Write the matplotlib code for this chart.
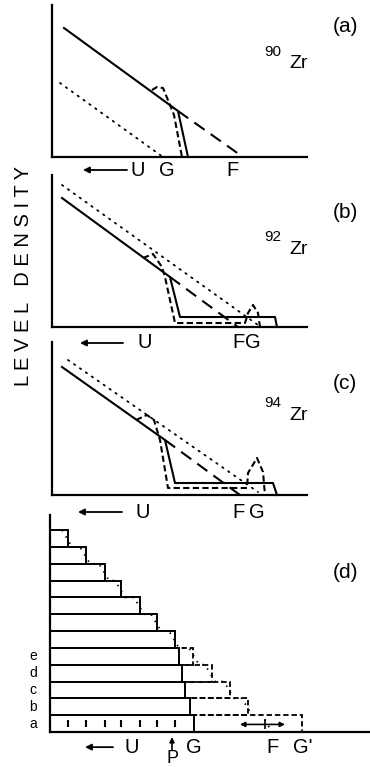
import matplotlib.pyplot as plt

W, H = 370, 767
plt.rcParams['font.family'] = ['Liberation Sans Narrow', 'Liberation Sans', 'DejaVu Sans']

# ---- panel (a) 90Zr ----
a_solid_x = [12, 126, 136]
a_solid_y = [129, 46, 0]
a_short_x = [100, 105, 111, 118, 122, 130]
a_short_y = [67, 70, 69, 52, 42, 0]
a_long_x = [126, 191]
a_long_y = [46, 0]
a_dot_x = [8, 111]
a_dot_y = [74, 0]
a_marks = ['U', 'G', 'F']
a_mark_x = [86, 115, 181]

# ---- panel (b) 92Zr ----
b_solid_x = [10, 118, 128, 223, 225]
b_solid_y = [129, 50, 10, 10, 0]
b_short_x = [91, 101, 110, 113, 123, 193, 196, 201, 206, 208]
b_short_y = [69, 73, 60, 50, 4, 4, 14, 22, 14, 0]
b_long_x = [118, 186]
b_long_y = [50, 0]
b_dot_x = [10, 206]
b_dot_y = [142, 2]
b_marks = ['U', 'F', 'G']
b_mark_x = [93, 186, 201]

# ---- panel (c) 94Zr ----
c_solid_x = [10, 113, 123, 221, 225]
c_solid_y = [128, 55, 12, 12, 0]
c_short_x = [84, 95, 102, 108, 116, 195, 196, 205, 211, 213]
c_short_y = [75, 80, 75, 55, 7, 7, 22, 37, 23, 0]
c_long_x = [113, 188]
c_long_y = [55, 0]
c_dot_x = [16, 206]
c_dot_y = [135, 3]
c_marks = ['U', 'F', 'G']
c_mark_x = [91, 186, 205]

# ---- panel (d) level scheme ----
row_labels = ['a', 'b', 'c', 'd', 'e']
solid_edge = [144, 140, 135, 132, 129, 125, 107, 90, 71, 55, 36, 18]
dash_edge = [252, 198, 180, 162, 143]
dot_edge = [220, 200, 182, 163, 147, 127, 109, 92, 73, 57, 38, 20]
d_marks = ['U', 'G', 'F', "G'"]
d_mark_x = [82, 144, 223, 253]
p_x = 122
shift_x = [190, 235]
shift_mid = 215

LONG = (6, 3.6)
SHORT = (3, 1.6)
DOT = (0.8, 3.2)

fig = plt.figure(figsize=(W / 100, H / 100), dpi=100)


def add_panel(left, right, top, bottom, ylim=None):
    ax = fig.add_axes([left / W, 1 - bottom / H, (right - left) / W, (bottom - top) / H])
    ax.set_xlim(0, right - left)
    ax.set_ylim(0, ylim if ylim else bottom - top)
    for s in ['top', 'right']:
        ax.spines[s].set_visible(False)
    for s in ['left', 'bottom']:
        ax.spines[s].set_linewidth(1.6)
    ax.set_xticks([])
    ax.set_yticks([])
    ax.patch.set_alpha(0)
    return ax


def draw_curves(ax, solid, short, long_, dot):
    ax.plot(*dot, color='k', lw=1.3, dashes=DOT, dash_capstyle='round', clip_on=False)
    ax.plot(*long_, color='k', lw=1.5, dashes=LONG, clip_on=False)
    ax.plot(*short, color='k', lw=1.5, dashes=SHORT, clip_on=False)
    ax.plot(*solid, color='k', lw=1.5, clip_on=False)


def left_arrow(ax, x0, x1, y):
    ax.annotate('', xy=(x1, y), xytext=(x0, y), annotation_clip=False,
                arrowprops=dict(arrowstyle='-|>', lw=1.3, color='k', mutation_scale=9,
                                shrinkA=0, shrinkB=0))


def marks(ax, names, xs, y):
    for n, x in zip(names, xs):
        ax.text(x, y, n, ha='center', va='center', fontsize=14.5, clip_on=False)


ax_a = add_panel(52, 307, 5, 157)
draw_curves(ax_a, (a_solid_x, a_solid_y), (a_short_x, a_short_y),
            (a_long_x, a_long_y), (a_dot_x, a_dot_y))
left_arrow(ax_a, 75, 31, -13)
marks(ax_a, a_marks, a_mark_x, -13)

ax_b = add_panel(52, 307, 175, 327)
draw_curves(ax_b, (b_solid_x, b_solid_y), (b_short_x, b_short_y),
            (b_long_x, b_long_y), (b_dot_x, b_dot_y))
left_arrow(ax_b, 71, 28, -16)
marks(ax_b, b_marks, b_mark_x, -16)

ax_c = add_panel(52, 307, 342, 495)
draw_curves(ax_c, (c_solid_x, c_solid_y), (c_short_x, c_short_y),
            (c_long_x, c_long_y), (c_dot_x, c_dot_y))
left_arrow(ax_c, 70, 26, -17)
marks(ax_c, c_marks, c_mark_x, -17)

ax_d = add_panel(50, 370, 515, 732, ylim=12.9)
n = len(solid_edge)
ax_d.barh(range(len(dash_edge)), dash_edge, height=1, align='edge', fill=False,
          edgecolor='k', lw=1.3, linestyle=(0, SHORT), zorder=1)
ax_d.barh(range(n), solid_edge, height=1, align='edge', color='white',
          edgecolor='k', lw=1.4, zorder=2)
dx, dy = [], []
for i in range(n - 1, -1, -1):
    dx += [dot_edge[i] - 8, dot_edge[i] + 2]
    dy += [i + 1, i]
ax_d.plot(dx, dy, color='k', lw=1.3, dashes=DOT, zorder=3)
ax_d.vlines(solid_edge[5:], 0.3, 0.7, color='k', lw=1.5, zorder=3)
for i, lab in enumerate(row_labels):
    ax_d.text(-17, i + 0.5, lab, ha='center', va='center', fontsize=10, clip_on=False)
ax_d.annotate('', xy=(shift_x[0], 0.45), xytext=(shift_x[1], 0.45),
              arrowprops=dict(arrowstyle='<|-|>', lw=1.2, color='k', mutation_scale=7,
                              shrinkA=0, shrinkB=0), zorder=4)
ax_d.vlines(shift_mid, 0.2, 0.75, color='k', lw=1.2, zorder=4)
left_arrow(ax_d, 63, 35, -0.9)
marks(ax_d, d_marks, d_mark_x, -0.9)
ax_d.annotate('', xy=(p_x, -0.3), xytext=(p_x, -1.05), annotation_clip=False,
              arrowprops=dict(arrowstyle='-|>', lw=1.2, color='k', mutation_scale=7,
                              shrinkA=0, shrinkB=0))
ax_d.text(p_x, -1.55, 'P', ha='center', va='center', fontsize=13, clip_on=False)

# panel tags and isotopes
for tag, y in [('(a)', 27), ('(b)', 213), ('(c)', 383), ('(d)', 573)]:
    fig.text(345 / W, 1 - y / H, tag, ha='center', va='center', fontsize=15)
for mass, py in [('90', 52), ('92', 237), ('94', 403)]:
    fig.text(264 / W, 1 - py / H, mass, ha='left', va='center', fontsize=11)
    fig.text(289 / W, 1 - (py + 12) / H, 'Zr', ha='left', va='center', fontsize=14)

fig.text(24 / W, 1 - 276 / H, 'L E V E L   D E N S I T Y', rotation=90,
         ha='center', va='center', fontsize=14.5)

fig.savefig('out.png', dpi=100)
